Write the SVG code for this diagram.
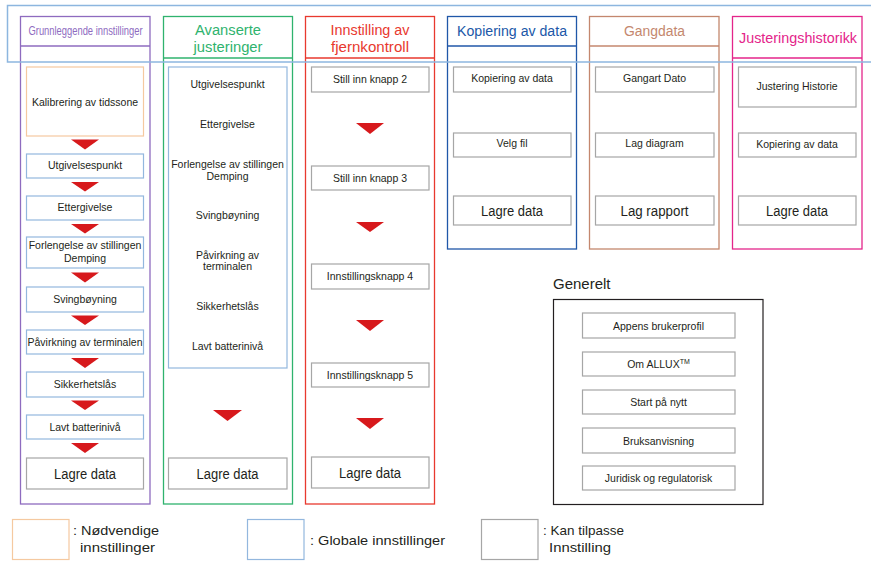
<svg xmlns="http://www.w3.org/2000/svg" width="871" height="566" viewBox="0 0 871 566">
<defs>
<style>
text{font-family:"Liberation Sans",Arial,sans-serif;fill:#231f20;text-anchor:middle}
.s{font-size:10.5px}
.l{font-size:15.5px}
.h{font-size:15.5px}
.col{fill:#fff;stroke-width:1.3}
.orange{fill:#fff;stroke:#f5c9a0;stroke-width:1.2}
.blue{fill:#fff;stroke:#93b7de;stroke-width:1.2}
.gray{fill:#fff;stroke:#a6a6a6;stroke-width:1.2}
.blk{fill:none;stroke:#231f20;stroke-width:1.2}
.tri{fill:#d7191c}
.leg{font-size:13.5px;text-anchor:start}
</style>
</defs>

<g id="col-grunnleggende">
<rect class="col" x="20.5" y="16.5" width="129.5" height="487.5" stroke="#8e6bbf"/>
<line x1="20.5" y1="46" x2="150" y2="46" stroke="#8e6bbf" stroke-width="1.3"/>
<text x="85.5" y="35" font-size="13" style="fill:#8e6bbf" textLength="114" lengthAdjust="spacingAndGlyphs">Grunnleggende innstillinger</text>
<rect class="orange" x="26.5" y="67" width="117" height="69"/>
<text class="s" x="85" y="105.5">Kalibrering av tidssone</text>
<rect class="blue" x="26.5" y="154" width="117" height="24"/>
<text class="s" x="85" y="168.5">Utgivelsespunkt</text>
<rect class="blue" x="26.5" y="196" width="117" height="24"/>
<text class="s" x="85" y="211">Ettergivelse</text>
<rect class="blue" x="26.5" y="237" width="117" height="31"/>
<text class="s" x="85" y="249">Forlengelse av stillingen</text>
<text class="s" x="85" y="262">Demping</text>
<rect class="blue" x="26.5" y="287" width="117" height="25"/>
<text class="s" x="85" y="303">Svingbøyning</text>
<rect class="blue" x="26.5" y="330" width="117" height="24"/>
<text class="s" x="85" y="345.5">Påvirkning av terminalen</text>
<rect class="blue" x="26.5" y="372" width="117" height="25"/>
<text class="s" x="85" y="388">Sikkerhetslås</text>
<rect class="blue" x="26.5" y="415" width="117" height="24"/>
<text class="s" x="85" y="431">Lavt batterinivå</text>
<rect class="gray" x="26.5" y="458" width="117" height="31"/>
<text class="l" x="85" y="479" textLength="62" lengthAdjust="spacingAndGlyphs">Lagre data</text>
</g>

<g id="col-avanserte">
<rect class="col" x="163.5" y="16.5" width="129" height="487.5" stroke="#2fb36e"/>
<line x1="163.5" y1="58" x2="292.5" y2="58" stroke="#2fb36e" stroke-width="1.3"/>
<text class="h" x="228" y="35" style="fill:#2fb36e" textLength="66" lengthAdjust="spacingAndGlyphs">Avanserte</text>
<text class="h" x="228" y="51.5" style="fill:#2fb36e" textLength="69" lengthAdjust="spacingAndGlyphs">justeringer</text>
<rect class="blue" x="168.5" y="67" width="118.5" height="301"/>
<text class="s" x="227.5" y="88">Utgivelsespunkt</text>
<text class="s" x="227.5" y="128">Ettergivelse</text>
<text class="s" x="227.5" y="168">Forlengelse av stillingen</text>
<text class="s" x="227.5" y="180">Demping</text>
<text class="s" x="227.5" y="219">Svingbøyning</text>
<text class="s" x="227.5" y="259">Påvirkning av</text>
<text class="s" x="227.5" y="270">terminalen</text>
<text class="s" x="227.5" y="310">Sikkerhetslås</text>
<text class="s" x="227.5" y="350">Lavt batterinivå</text>
<rect class="gray" x="168.5" y="458" width="118.5" height="31"/>
<text class="l" x="227.5" y="479" textLength="62" lengthAdjust="spacingAndGlyphs">Lagre data</text>
</g>

<g id="col-fjernkontroll">
<rect class="col" x="305.5" y="16.5" width="129" height="487.5" stroke="#e8392e"/>
<line x1="305.5" y1="58" x2="434.5" y2="58" stroke="#e8392e" stroke-width="1.3"/>
<text class="h" x="370" y="35" style="fill:#e8392e" textLength="79" lengthAdjust="spacingAndGlyphs">Innstilling av</text>
<text class="h" x="370" y="51.5" style="fill:#e8392e" textLength="78" lengthAdjust="spacingAndGlyphs">fjernkontroll</text>
<rect class="gray" x="311.5" y="67" width="117.5" height="25"/>
<text class="s" x="370" y="83">Still inn knapp 2</text>
<rect class="gray" x="311.5" y="166" width="117.5" height="24"/>
<text class="s" x="370" y="182">Still inn knapp 3</text>
<rect class="gray" x="311.5" y="264" width="117.5" height="25"/>
<text class="s" x="370" y="280">Innstillingsknapp 4</text>
<rect class="gray" x="311.5" y="363" width="117.5" height="24"/>
<text class="s" x="370" y="379">Innstillingsknapp 5</text>
<rect class="gray" x="311.5" y="457" width="117.5" height="31"/>
<text class="l" x="370" y="478" textLength="62" lengthAdjust="spacingAndGlyphs">Lagre data</text>
</g>

<g id="col-kopiering">
<rect class="col" x="447.5" y="16.5" width="129" height="232.5" stroke="#2057a8"/>
<line x1="447.5" y1="46" x2="576.5" y2="46" stroke="#2057a8" stroke-width="1.3"/>
<text class="h" x="512" y="36" style="fill:#2057a8" textLength="110" lengthAdjust="spacingAndGlyphs">Kopiering av data</text>
<rect class="gray" x="453.5" y="67" width="117.5" height="25"/>
<text class="s" x="512" y="82">Kopiering av data</text>
<rect class="gray" x="453.5" y="133" width="117.5" height="24"/>
<text class="s" x="512" y="147">Velg fil</text>
<rect class="gray" x="453.5" y="196" width="117.5" height="29"/>
<text class="l" x="512" y="216" textLength="62" lengthAdjust="spacingAndGlyphs">Lagre data</text>
</g>

<g id="col-gangdata">
<rect class="col" x="589.5" y="16.5" width="129.5" height="232.5" stroke="#c4876e"/>
<line x1="589.5" y1="46" x2="719" y2="46" stroke="#c4876e" stroke-width="1.3"/>
<text class="h" x="654.5" y="36" style="fill:#c4876e" textLength="61" lengthAdjust="spacingAndGlyphs">Gangdata</text>
<rect class="gray" x="595.5" y="67" width="118.5" height="25"/>
<text class="s" x="654.5" y="82">Gangart Dato</text>
<rect class="gray" x="595.5" y="133" width="118.5" height="24"/>
<text class="s" x="654.5" y="147">Lag diagram</text>
<rect class="gray" x="595.5" y="196" width="118.5" height="29"/>
<text class="l" x="654.5" y="216" textLength="68" lengthAdjust="spacingAndGlyphs">Lag rapport</text>
</g>

<g id="col-justeringshistorikk">
<rect class="col" x="732.5" y="16.5" width="129.5" height="232.5" stroke="#e4258a"/>
<line x1="732.5" y1="58" x2="862" y2="58" stroke="#e4258a" stroke-width="1.3"/>
<text class="h" x="798" y="43" style="fill:#e4258a" textLength="118" lengthAdjust="spacingAndGlyphs">Justeringshistorikk</text>
<rect class="gray" x="738.5" y="67" width="117.5" height="40"/>
<text class="s" x="797" y="90">Justering Historie</text>
<rect class="gray" x="738.5" y="133" width="117.5" height="24"/>
<text class="s" x="797" y="148">Kopiering av data</text>
<rect class="gray" x="738.5" y="196" width="117.5" height="29"/>
<text class="l" x="797" y="216" textLength="62" lengthAdjust="spacingAndGlyphs">Lagre data</text>
</g>

<g id="generelt">
<text x="553" y="289" font-size="15" style="text-anchor:start">Generelt</text>
<rect class="blk" x="553.5" y="299.5" width="209.5" height="205"/>
<rect class="gray" x="582.5" y="313" width="152.5" height="25"/>
<text class="s" x="658.5" y="329.5">Appens brukerprofil</text>
<rect class="gray" x="582.5" y="352" width="152.5" height="24"/>
<text class="s" x="658.5" y="368">Om ALLUX<tspan font-size="7" dy="-4">TM</tspan></text>
<rect class="gray" x="582.5" y="390" width="152.5" height="24"/>
<text class="s" x="658.5" y="406">Start på nytt</text>
<rect class="gray" x="582.5" y="428" width="152.5" height="25"/>
<text class="s" x="658.5" y="444.5">Bruksanvisning</text>
<rect class="gray" x="582.5" y="466" width="152.5" height="24"/>
<text class="s" x="658.5" y="482">Juridisk og regulatorisk</text>
</g>

<g id="connectors">
<polygon class="tri" points="71,139.5 99,139.5 85,149.5"/>
<polygon class="tri" points="71,182 99,182 85,191.5"/>
<polygon class="tri" points="71,224 99,224 85,233.5"/>
<polygon class="tri" points="71,272.5 99,272.5 85,282.5"/>
<polygon class="tri" points="71,315.5 99,315.5 85,325"/>
<polygon class="tri" points="71,358 99,358 85,368"/>
<polygon class="tri" points="71,400.5 99,400.5 85,410"/>
<polygon class="tri" points="71,443 99,443 85,453"/>
<polygon class="tri" points="213,410 242,410 227.5,421"/>
<polygon class="tri" points="356,123 384,123 370,134"/>
<polygon class="tri" points="356,222 384,222 370,232"/>
<polygon class="tri" points="356,320 384,320 370,331"/>
<polygon class="tri" points="356,418 384,418 370,429"/>
</g>

<g id="legend">
<rect class="orange" x="12.5" y="519.5" width="56.5" height="40"/>
<text class="leg" x="73" y="535" textLength="86" lengthAdjust="spacingAndGlyphs">: Nødvendige</text>
<text class="leg" x="80" y="552" textLength="75" lengthAdjust="spacingAndGlyphs">innstillinger</text>
<rect class="blue" x="247.5" y="519.5" width="56.5" height="40"/>
<text class="leg" x="310" y="545" textLength="135" lengthAdjust="spacingAndGlyphs">: Globale innstillinger</text>
<rect class="gray" x="481.5" y="519.5" width="56.5" height="40"/>
<text class="leg" x="543" y="535" textLength="81" lengthAdjust="spacingAndGlyphs">: Kan tilpasse</text>
<text class="leg" x="549" y="552" textLength="62" lengthAdjust="spacingAndGlyphs">Innstilling</text>
</g>

<g id="frame">
<rect x="7.5" y="5.5" width="880" height="56.5" fill="none" stroke="#8db6df" stroke-width="1.5"/>
</g>
</svg>
